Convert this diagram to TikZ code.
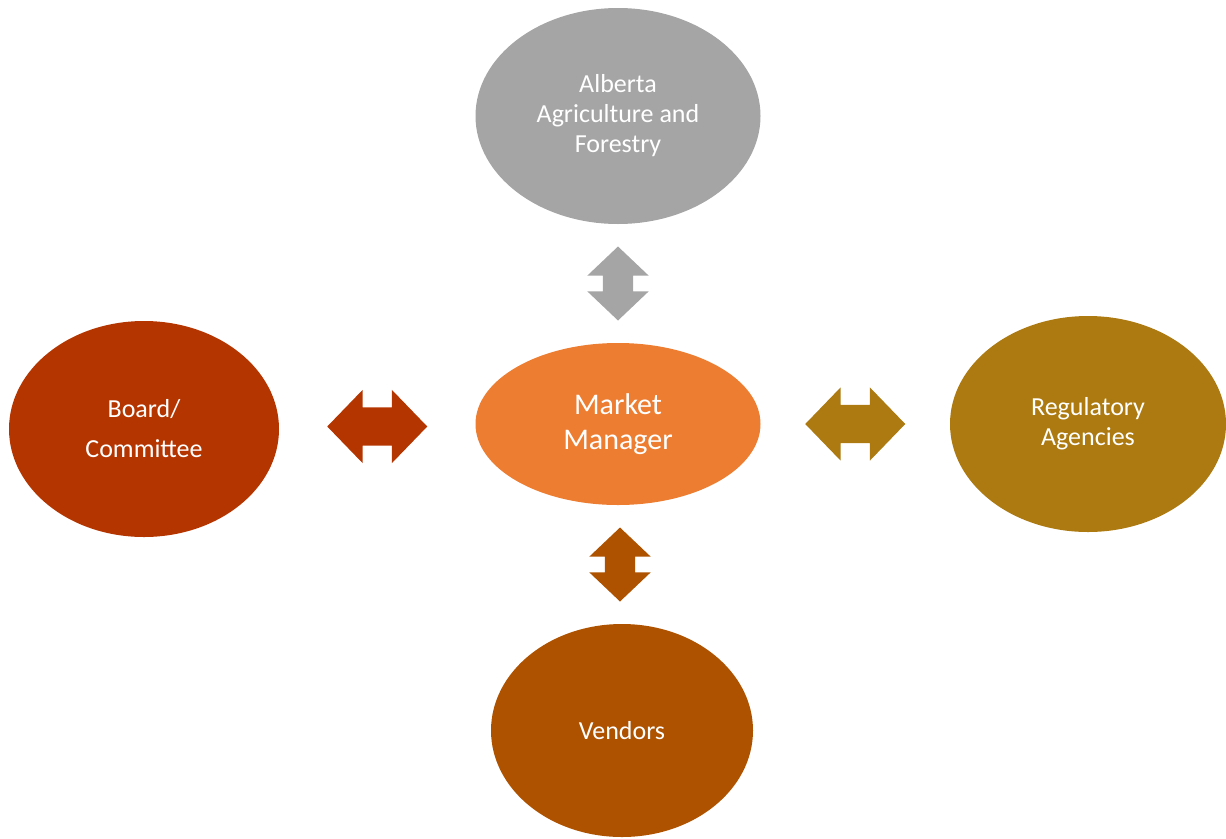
\documentclass[tikz,border=0pt]{standalone}
\usepackage{fontspec}
\setmainfont{Carlito}
\usetikzlibrary{shapes.geometric,shapes.arrows,calc}

\definecolor{grayblob}{HTML}{A5A5A5}
\definecolor{rustblob}{HTML}{B43500}
\definecolor{orangeblob}{HTML}{ED7D31}
\definecolor{goldblob}{HTML}{AC7A10}
\definecolor{brownblob}{HTML}{AE5200}

\begin{document}
\begin{tikzpicture}[x=1pt,y=-1pt,
    blob/.style={ellipse,inner sep=0pt,text=white,align=center,
        font=\fontsize{26}{30}\selectfont},
    harrow/.style={double arrow,inner xsep=0pt,inner ysep=19pt,
        double arrow head extend=17.5pt,double arrow tip angle=92,minimum height=100pt},
    varrow/.style={double arrow,inner xsep=0pt,inner ysep=15pt,
        double arrow head extend=15.5pt,double arrow tip angle=93,minimum height=74pt,rotate=90}]
    \useasboundingbox (0,0) rectangle (1226,838);
    \node[blob,fill=orangeblob,minimum width=285pt,minimum height=162pt,
        font=\fontsize{30}{35}\selectfont] (mgr) at (618,424) {Market\\Manager};
    \node[blob,fill=grayblob,minimum width=285pt,minimum height=216pt] (aaf) at (618,116)
        {Alberta\\Agriculture and\\Forestry};
    \node[blob,fill=rustblob,minimum width=270pt,minimum height=216pt,
        font=\fontsize{26}{40}\selectfont] (board) at (144,429) {Board/\\Committee};
    \node[blob,fill=goldblob,minimum width=276pt,minimum height=216pt] (reg) at (1088,424)
        {Regulatory\\Agencies};
    \node[blob,fill=brownblob,minimum width=262pt,minimum height=213pt] (vend) at (622,730.5)
        {Vendors};
    % two-way links
    \node[varrow,fill=grayblob] (up) at ($(aaf.south)!0.5!(mgr.north)$) {};
    \node[harrow,fill=rustblob] (left) at ($(board.east)!0.5!(mgr.west)$) {};
    \node[harrow,fill=goldblob] (right) at ($(mgr.east)!0.5!(reg.west)$) {};
    \node[varrow,fill=brownblob] (down) at ($(mgr.south)!0.5!(vend.north)$) {};
\end{tikzpicture}
\end{document}
